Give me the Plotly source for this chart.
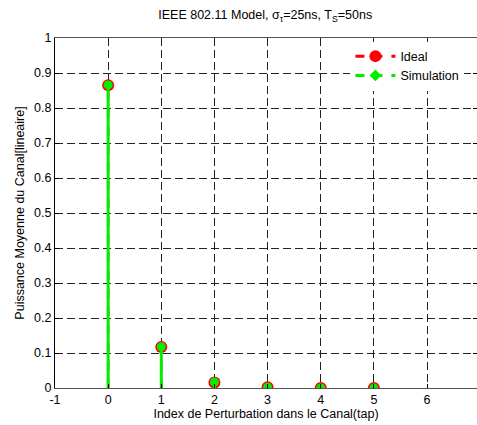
import plotly.graph_objects as go

taps = [0, 1, 2, 3, 4, 5]
ideal = [0.8647, 0.1170, 0.0158, 0.0021, 0.0003, 0.00004]
simulation = [0.8660, 0.1180, 0.0170, 0.0022, 0.0003, 0.0001]
x_ticks = [-1, 0, 1, 2, 3, 4, 5, 6]
y_ticks = [0, 0.1, 0.2, 0.3, 0.4, 0.5, 0.6, 0.7, 0.8, 0.9, 1]
y_labels = ["0", "0.1", "0.2", "0.3", "0.4", "0.5", "0.6", "0.7", "0.8", "0.9", "1"]

RED = "#ff0000"
GREEN = "#00ee00"


def stems(xs, ys):
    sx, sy = [], []
    for a, b in zip(xs, ys):
        sx += [a, a, None]
        sy += [0, b, None]
    return sx, sy


fig = go.Figure()
ix, iy = stems(taps, ideal)
fig.add_trace(go.Scatter(x=ix, y=iy, mode="lines", line=dict(color=RED, width=2.5, dash="dash"),
                         showlegend=False, hoverinfo="skip"))
fig.add_trace(go.Scatter(x=taps, y=ideal, mode="markers",
                         marker=dict(color=RED, size=12, line=dict(width=0)),
                         showlegend=False))
sx, sy = stems(taps, simulation)
fig.add_trace(go.Scatter(x=sx, y=sy, mode="lines", line=dict(color=GREEN, width=3),
                         showlegend=False, hoverinfo="skip"))
fig.add_trace(go.Scatter(x=taps, y=simulation, mode="markers",
                         marker=dict(color=GREEN, size=9, line=dict(width=0)),
                         showlegend=False))
# legend entries
fig.add_trace(go.Scatter(x=[None], y=[None], mode="lines+markers", name="Ideal",
                         line=dict(color=RED, width=3, dash="dash"),
                         marker=dict(color=RED, size=12)))
fig.add_trace(go.Scatter(x=[None], y=[None], mode="lines+markers", name="Simulation",
                         line=dict(color=GREEN, width=3, dash="dash"),
                         marker=dict(color=GREEN, size=9, symbol="diamond")))

font = "Liberation Sans, Arial, sans-serif"
fs = 12.5
fig.update_layout(
    width=477, height=425,
    margin=dict(l=55, r=0, t=38, b=37),
    paper_bgcolor="white", plot_bgcolor="white",
    font=dict(family=font, size=fs, color="black"),
    title=dict(text="IEEE 802.11 Model, σ<sub>τ</sub>=25ns, T<sub>S</sub>=50ns",
               x=0.556, xanchor="center", y=0.975, yanchor="top",
               font=dict(size=fs, family=font)),
    showlegend=True,
    legend=dict(x=0.7, y=0.99, xanchor="left", yanchor="top",
                bgcolor="white", borderwidth=0, font=dict(size=fs),
                itemwidth=40, tracegroupgap=0),
    xaxis=dict(range=[-1, 6.94], tickmode="array", tickvals=x_ticks,
               ticktext=[str(v) for v in x_ticks],
               showgrid=True, gridcolor="#222", griddash="8px,4px", gridwidth=1,
               showline=True, linecolor="#555", linewidth=1, mirror=True,
               ticks="inside", ticklen=4, tickcolor="black",
               zeroline=False,
               title=dict(text="Index de Perturbation dans le Canal(tap)", standoff=2,
                          font=dict(size=fs))),
    yaxis=dict(range=[0, 1], tickmode="array", tickvals=y_ticks, ticktext=y_labels,
               showgrid=True, gridcolor="#222", griddash="8px,4px", gridwidth=1,
               showline=True, linecolor="black", linewidth=1, mirror="ticks",
               ticks="inside", ticklen=4, tickcolor="black",
               zeroline=False,
               title=dict(text="Puissance Moyenne du Canal[lineaire]", standoff=6,
                          font=dict(size=fs))),
)

fig.write_html("out.html", config={"displayModeBar": False},
               post_script="document.body.style.margin='0';document.body.style.overflow='hidden';")
